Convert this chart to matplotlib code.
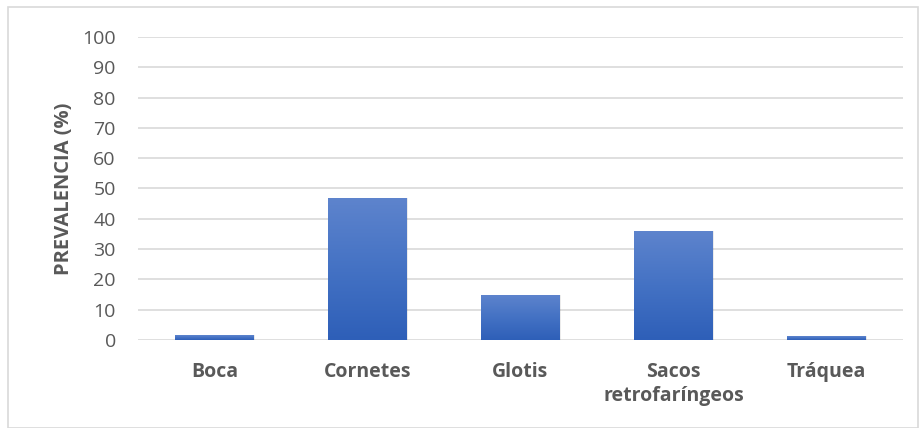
import matplotlib
matplotlib.use("Agg")
import matplotlib.pyplot as plt
import numpy as np
from matplotlib.colors import LinearSegmentedColormap
from matplotlib.patches import Rectangle

categories = ["Boca", "Cornetes", "Glotis", "Sacos\nretrofaríngeos", "Tráquea"]
values = [1.6, 47, 15, 36, 1.3]
yticks = [0, 10, 20, 30, 40, 50, 60, 70, 80, 90, 100]

plt.rcParams['font.family'] = ['Open Sans', 'DejaVu Sans']

fig = plt.figure(figsize=(9.2, 4.28), dpi=100)
ax = fig.add_axes([138/920, (428-340)/428, (903-138)/920, (340-37)/428])

# figure border
fig.patches.append(Rectangle((8/920, 0), 910/920, 421/428, transform=fig.transFigure,
                             fill=False, edgecolor='#d9d9d9', linewidth=1.2))

x = np.arange(len(categories))
width = 0.51
bars = ax.bar(x, values, width=width, color='none', zorder=3)
cmap = LinearSegmentedColormap.from_list('g', ['#2E5FB8', '#4472C4', '#5E84CD'])
grad = np.linspace(0, 1, 256).reshape(-1, 1)
for b in bars:
    x0, y0 = b.get_x(), b.get_y()
    w, h = b.get_width(), b.get_height()
    # soft shadow
    ax.add_patch(Rectangle((x0 + 0.01, y0), w, h, facecolor='#000000', alpha=0.08,
                           edgecolor='none', zorder=2))
    im = ax.imshow(grad, extent=(x0, x0 + w, y0, y0 + h), origin='lower', cmap=cmap,
                   aspect='auto', zorder=3)
    im.set_clip_path(b)

ax.set_xlim(-0.5, len(categories) - 0.5)
ax.set_ylim(0, 100)
ax.set_yticks(yticks)
ax.set_yticklabels([str(t) for t in yticks], fontsize=14, color='#595959')
ax.set_xticks(x)
ax.set_xticklabels(categories, fontsize=14, color='#595959', fontweight='bold',
                   linespacing=1.25)
ax.tick_params(axis='both', length=0)
ax.tick_params(axis='x', pad=16)
ax.tick_params(axis='y', pad=16)
ax.grid(axis='y', color='#d9d9d9', linewidth=1.2, zorder=0)
ax.set_axisbelow(True)
for s in ax.spines.values():
    s.set_visible(False)
ax.set_ylabel('PREVALENCIA (%)', fontsize=14.5, color='#595959', fontweight='bold',
              labelpad=6)

fig.savefig('out.png', dpi=100)
